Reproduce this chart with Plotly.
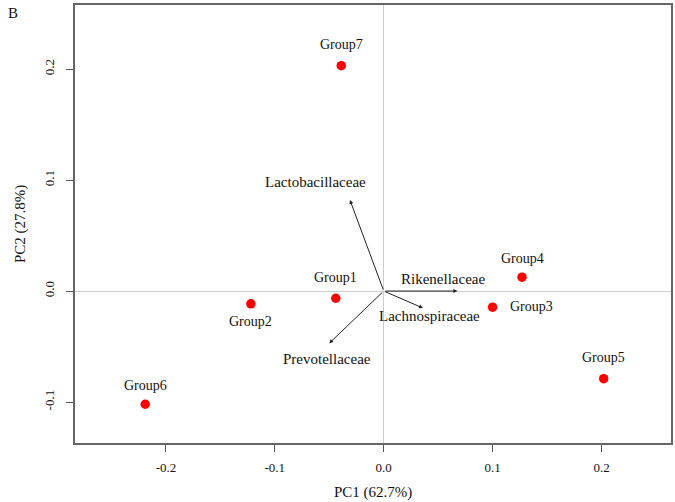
import plotly.graph_objects as go

groups = ["Group1", "Group2", "Group3", "Group4", "Group5", "Group6", "Group7"]
pc1 = [-0.044, -0.122, 0.100, 0.127, 0.202, -0.219, -0.039]
pc2 = [-0.0065, -0.0115, -0.0145, 0.0125, -0.079, -0.102, 0.203]

taxa = ["Lactobacillaceae", "Rikenellaceae", "Lachnospiraceae", "Prevotellaceae"]
load1 = [-0.031, 0.0676, 0.036, -0.050]
load2 = [0.082, 0.0, -0.0153, -0.047]
taxa_lx = [-0.063, 0.054, 0.042, -0.052]
taxa_ly = [0.098, 0.011, -0.0225, -0.061]

font_family = "Liberation Serif, Times New Roman, serif"

# label placement (pixel offsets from each point)
label_offset = {
    "Group1": (0, 21, "center"),
    "Group2": (0, -18, "center"),
    "Group3": (15, 1, "left"),
    "Group4": (0, 19, "center"),
    "Group5": (0, 21, "center"),
    "Group6": (0, 19, "center"),
    "Group7": (0, 21, "center"),
}

fig = go.Figure()

fig.add_trace(go.Scatter(
    x=pc1, y=pc2, mode="markers",
    marker=dict(color="#ff0000", size=9.5),
    showlegend=False, cliponaxis=False, hoverinfo="skip",
))

for g, x, y in zip(groups, pc1, pc2):
    dx, dy, anchor = label_offset[g]
    fig.add_annotation(
        x=x, y=y, xref="x", yref="y", text=g, showarrow=False,
        xshift=dx, yshift=dy, xanchor=anchor, yanchor="middle",
        font=dict(family=font_family, size=14, color="#111"),
    )

for name, x1, y1, lx, ly in zip(taxa, load1, load2, taxa_lx, taxa_ly):
    fig.add_annotation(
        x=x1, y=y1, ax=0, ay=0, xref="x", yref="y", axref="x", ayref="y",
        showarrow=True, arrowhead=2, arrowsize=0.8, arrowwidth=1,
        arrowcolor="#222", text="",
    )
    fig.add_annotation(
        x=lx, y=ly, xref="x", yref="y", text=name, showarrow=False,
        font=dict(family=font_family, size=15, color="#111"),
    )

# panel letter
fig.add_annotation(
    x=0, y=1, xref="paper", yref="paper", text="B", showarrow=False,
    xanchor="center", yanchor="middle", xshift=-62, yshift=-8,
    font=dict(family=font_family, size=15, color="#111"),
)
# axis titles
fig.add_annotation(
    x=0.5, y=0, xref="paper", yref="paper", text="PC1 (62.7%)", showarrow=False,
    xanchor="center", yanchor="middle", yshift=-49,
    font=dict(family=font_family, size=15, color="#111"),
)
fig.add_annotation(
    x=0, y=0.5, xref="paper", yref="paper", text="PC2 (27.8%)", showarrow=False,
    xanchor="center", yanchor="middle", xshift=-55, textangle=-90,
    font=dict(family=font_family, size=15, color="#111"),
)

axis_common = dict(
    showgrid=False, showline=True, linecolor="#666", linewidth=1.5,
    mirror=True, ticks="outside", ticklen=7, tickcolor="#555", tickwidth=1,
    zeroline=True, zerolinecolor="#cccccc", zerolinewidth=1,
    tickfont=dict(family=font_family, size=13, color="#111"),
    automargin=False,
)

fig.update_xaxes(
    range=[-0.2835, 0.2638], tickvals=[-0.2, -0.1, 0.0, 0.1, 0.2],
    ticktext=["-0.2", "-0.1", "0.0", "0.1", "0.2"], ticklabelstandoff=5,
    **axis_common,
)
fig.update_yaxes(
    range=[-0.1369, 0.2577], tickvals=[-0.1, 0.0, 0.1, 0.2],
    ticktext=["-0.1", "0.0", "0.1", "0.2"], tickangle=-90, ticklabelstandoff=7,
    **axis_common,
)

fig.update_layout(
    width=675, height=502,
    margin=dict(l=75, r=3.5, t=5, b=59),
    plot_bgcolor="white", paper_bgcolor="white",
    font=dict(family=font_family),
)

fig.write_html(
    "out.html",
    config={"displayModeBar": False},
    post_script="document.body.style.margin='0';document.body.style.overflow='hidden';",
)
